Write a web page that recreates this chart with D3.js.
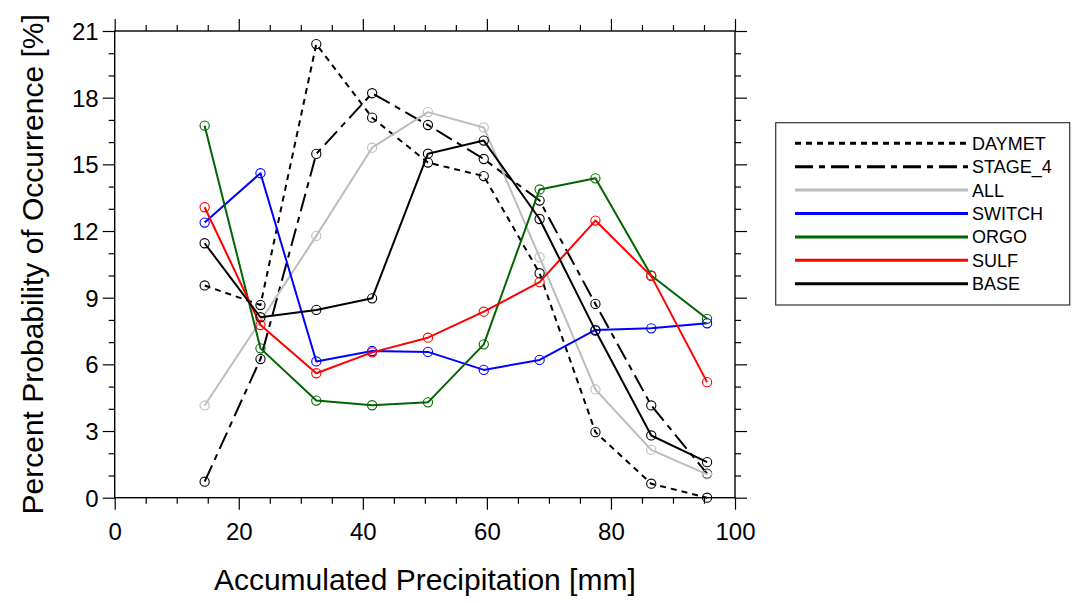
<!DOCTYPE html>
<html>
<head>
<meta charset="utf-8">
<script src="https://cdn.jsdelivr.net/npm/d3@7"></script>
<style>
  html, body { margin: 0; padding: 0; background: #fff; }
  svg { display: block; font-family: "Liberation Sans", Arial, Helvetica, sans-serif; }
</style>
</head>
<body>
<svg id="chart" width="1077" height="603"></svg>
<script>
// Bin centres of accumulated precipitation [mm]
const binCenters = [14.5, 23.5, 32.5, 41.5, 50.5, 59.5, 68.5, 77.5, 86.5, 95.5];

// Percent probability of occurrence per bin, one array per data set
const daymet  = [9.55, 8.67, 20.41, 17.1, 15.08, 14.47, 10.1, 2.95, 0.63, 0.0];
const stage4  = [0.72, 6.24, 15.47, 18.2, 16.77, 15.24, 13.37, 8.72, 4.15, 1.08];
const allRun  = [4.15, 7.95, 11.78, 15.75, 17.35, 16.66, 10.82, 4.87, 2.15, 1.05];
const switchRun = [12.38, 14.6, 6.13, 6.6, 6.56, 5.75, 6.2, 7.55, 7.62, 7.85];
const orgo    = [16.74, 6.72, 4.37, 4.16, 4.29, 6.9, 13.87, 14.37, 10.0, 8.05];
const sulf    = [13.07, 7.77, 5.6, 6.54, 7.2, 8.37, 9.7, 12.47, 9.97, 5.2];
const base    = [11.45, 8.12, 8.45, 8.97, 15.48, 16.07, 12.54, 7.52, 2.8, 1.6];

const seriesNames = ["DAYMET", "STAGE_4", "ALL", "SWITCH", "ORGO", "SULF", "BASE"];
const seriesValues = [daymet, stage4, allRun, switchRun, orgo, sulf, base];

const xMajorTicks = [0, 20, 40, 60, 80, 100];
const yMajorTicks = [0, 3, 6, 9, 12, 15, 18, 21];

// Styling per series
const styles = {
  "DAYMET":  { color: "#000000", dash: "6,5" },
  "STAGE_4": { color: "#000000", dash: "18,6,6,6" },
  "ALL":     { color: "#bdbdbd", dash: null },
  "SWITCH":  { color: "#0000ff", dash: null },
  "ORGO":    { color: "#006400", dash: null },
  "SULF":    { color: "#ff0000", dash: null },
  "BASE":    { color: "#000000", dash: null }
};

const svg = d3.select("#chart");
const plot = { left: 114.7, right: 735, top: 31, bottom: 497.7 };

const x = d3.scaleLinear().domain([0, 100]).range([plot.left, plot.right]);
const y = d3.scaleLinear().domain([0, 21]).range([plot.bottom, plot.top]);

const xMinor = d3.range(0, 101, 5).filter(v => v % 20 !== 0);
const yMinor = d3.range(0, 22, 1).filter(v => v % 3 !== 0);

function styleAxis(g) {
  g.select(".domain").remove();
  g.selectAll("line").attr("stroke", "#000").attr("stroke-width", 1.2);
}

// bottom axis with labels
svg.append("g").attr("transform", `translate(0,${plot.bottom})`)
  .call(d3.axisBottom(x).tickValues(xMajorTicks).tickSize(12).tickSizeOuter(0).tickFormat(d3.format("d")))
  .call(styleAxis)
  .call(g => g.selectAll("text").attr("font-size", 24).attr("fill", "#000").attr("dy", "1.15em")
        .style("font-family", "'Liberation Sans', Arial, sans-serif"));
svg.append("g").attr("transform", `translate(0,${plot.bottom})`)
  .call(d3.axisBottom(x).tickValues(xMinor).tickSize(6).tickFormat(""))
  .call(styleAxis);

// top axis (mirror)
svg.append("g").attr("transform", `translate(0,${plot.top})`)
  .call(d3.axisTop(x).tickValues(xMajorTicks).tickSize(12).tickFormat(""))
  .call(styleAxis);
svg.append("g").attr("transform", `translate(0,${plot.top})`)
  .call(d3.axisTop(x).tickValues(xMinor).tickSize(6).tickFormat(""))
  .call(styleAxis);

// left axis with labels
svg.append("g").attr("transform", `translate(${plot.left},0)`)
  .call(d3.axisLeft(y).tickValues(yMajorTicks).tickSize(12).tickPadding(4).tickFormat(d3.format("d")))
  .call(styleAxis)
  .call(g => g.selectAll("text").attr("font-size", 24).attr("fill", "#000").attr("dy", "0.36em")
        .style("font-family", "'Liberation Sans', Arial, sans-serif"));
svg.append("g").attr("transform", `translate(${plot.left},0)`)
  .call(d3.axisLeft(y).tickValues(yMinor).tickSize(6).tickFormat(""))
  .call(styleAxis);

// right axis (mirror)
svg.append("g").attr("transform", `translate(${plot.right},0)`)
  .call(d3.axisRight(y).tickValues(yMajorTicks).tickSize(12).tickFormat(""))
  .call(styleAxis);
svg.append("g").attr("transform", `translate(${plot.right},0)`)
  .call(d3.axisRight(y).tickValues(yMinor).tickSize(6).tickFormat(""))
  .call(styleAxis);

// plot frame
svg.append("rect")
  .attr("x", plot.left).attr("y", plot.top)
  .attr("width", plot.right - plot.left).attr("height", plot.bottom - plot.top)
  .attr("fill", "none").attr("stroke", "#000").attr("stroke-width", 1.4);

// data lines and hollow circle markers
const line = d3.line().x((d, i) => x(binCenters[i])).y(d => y(d));
const layer = svg.append("g");
seriesNames.forEach((name, k) => {
  const vals = seriesValues[k];
  const st = styles[name];
  const g = layer.append("g");
  g.append("path").datum(vals)
    .attr("d", line)
    .attr("fill", "none")
    .attr("stroke", st.color)
    .attr("stroke-width", 2)
    .attr("stroke-linejoin", "round")
    .attr("stroke-dasharray", st.dash);
  g.selectAll("circle").data(vals).join("circle")
    .attr("cx", (d, i) => x(binCenters[i]))
    .attr("cy", d => y(d))
    .attr("r", 4.6)
    .attr("fill", "none")
    .attr("stroke", st.color)
    .attr("stroke-width", 1.1);
});

// axis titles
svg.append("text")
  .attr("x", (plot.left + plot.right) / 2).attr("y", 590)
  .attr("text-anchor", "middle").attr("font-size", 30)
  .text("Accumulated Precipitation [mm]");
svg.append("text")
  .attr("transform", `translate(43,${(plot.top + plot.bottom) / 2}) rotate(-90)`)
  .attr("text-anchor", "middle").attr("font-size", 30)
  .text("Percent Probability of Occurrence [%]");

// legend
const legend = svg.append("g");
legend.append("rect")
  .attr("x", 775.7).attr("y", 122.7).attr("width", 294).attr("height", 182.3)
  .attr("fill", "#fff").attr("stroke", "#333").attr("stroke-width", 1.2);
const legendY = d3.scalePoint().domain(seriesNames).range([143.3, 283.7]);
seriesNames.forEach(name => {
  const st = styles[name];
  const ly = legendY(name);
  legend.append("line")
    .attr("x1", 795).attr("x2", 968).attr("y1", ly).attr("y2", ly)
    .attr("stroke", st.color).attr("stroke-width", 3)
    .attr("stroke-dasharray", st.dash);
  legend.append("text")
    .attr("x", 972).attr("y", ly).attr("dy", "0.36em")
    .attr("font-size", 18).text(name);
});
</script>
</body>
</html>
